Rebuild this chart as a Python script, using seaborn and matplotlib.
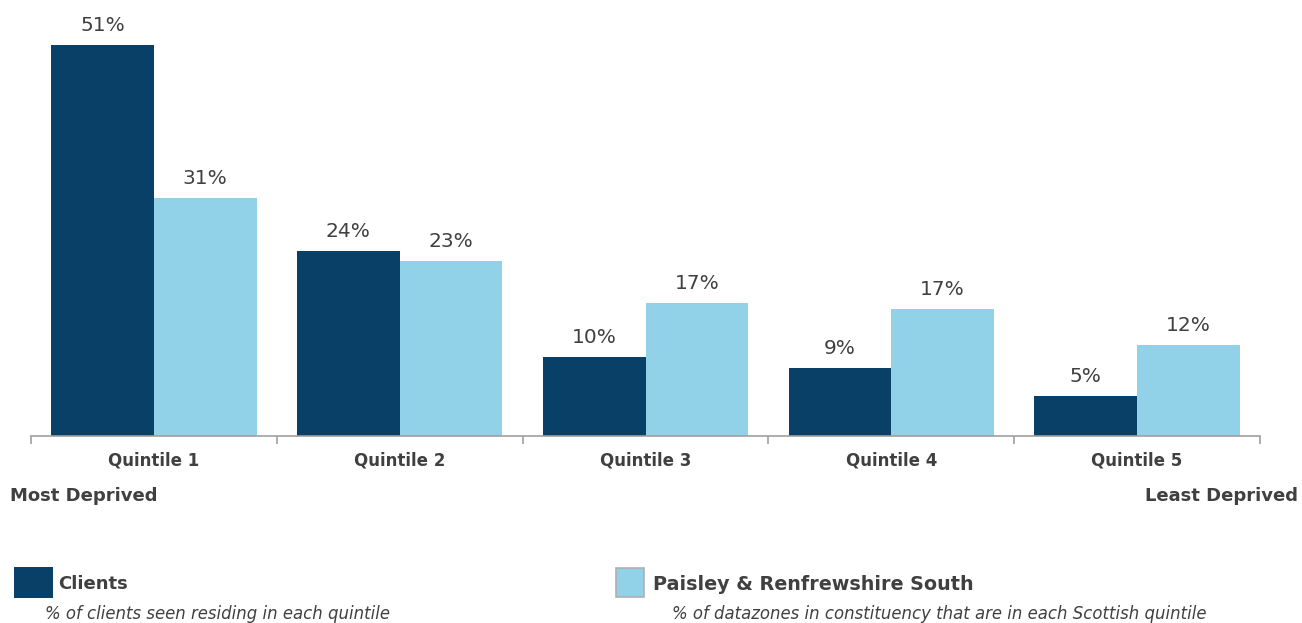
import matplotlib
matplotlib.use("Agg")
import matplotlib.pyplot as plt
from matplotlib.patches import Rectangle
import seaborn as sns
import pandas as pd

categories = ["Quintile 1", "Quintile 2", "Quintile 3", "Quintile 4", "Quintile 5"]
clients = [51.0, 24.1, 10.3, 8.9, 5.2]
constituency = [31.0, 22.8, 17.3, 16.6, 11.9]
series_names = ["Clients", "Paisley & Renfrewshire South"]
colors = ["#084068", "#92D2E8"]

df = pd.DataFrame({
    "Quintile": categories * 2,
    "Series": [series_names[0]] * 5 + [series_names[1]] * 5,
    "Value": clients + constituency,
})

sns.set_theme(style="white")
plt.rcParams["font.family"] = ["DejaVu Sans"]
text_color = "#404040"

fig = plt.figure(figsize=(13.02, 6.23), dpi=100)
ax = fig.add_axes([31 / 1302, 1 - 436 / 623, (1260 - 31) / 1302, (436 - 10) / 623])

sns.barplot(data=df, x="Quintile", y="Value", hue="Series", palette=colors,
            width=0.835, saturation=1, ax=ax, legend=False, linewidth=0)

for cont in ax.containers:
    ax.bar_label(cont, labels=[f"{v:.0f}%" for v in cont.datavalues],
                 padding=7, fontsize=14.5, color=text_color)

ax.set_ylim(0, 55.5)
ax.set_xlim(-0.5, 4.5)
ax.set_xlabel("")
ax.set_ylabel("")
ax.set_yticks([])
for s in ["top", "right", "left"]:
    ax.spines[s].set_visible(False)
ax.spines["bottom"].set_color("#A0A0A0")
ax.spines["bottom"].set_linewidth(1.2)
ax.tick_params(axis="x", which="major", length=0, pad=11)
ax.set_xticks([-0.5, 0.5, 1.5, 2.5, 3.5, 4.5], minor=True)
ax.tick_params(axis="x", which="minor", length=6, color="#A0A0A0", width=1.2, bottom=True)
for lbl in ax.get_xticklabels():
    lbl.set_fontweight("bold")
    lbl.set_fontsize(12)
    lbl.set_color(text_color)

fig.text(10 / 1302, 1 - 496 / 623, "Most Deprived", fontsize=13, fontweight="bold",
         color=text_color, ha="left", va="center")
fig.text(1298 / 1302, 1 - 496 / 623, "Least Deprived", fontsize=13, fontweight="bold",
         color=text_color, ha="right", va="center")

# legend
fig.patches.append(Rectangle((14 / 1302, 1 - 598 / 623), 39 / 1302, 31 / 623,
                             transform=fig.transFigure, facecolor=colors[0], edgecolor="none"))
fig.text(58 / 1302, 1 - 584 / 623, series_names[0], fontsize=13, fontweight="bold",
         color=text_color, ha="left", va="center")
fig.text(45 / 1302, 1 - 614 / 623, "% of clients seen residing in each quintile", fontsize=11.9,
         style="italic", color=text_color, ha="left", va="center")

fig.patches.append(Rectangle((616 / 1302, 1 - 597 / 623), 28 / 1302, 29 / 623,
                             transform=fig.transFigure, facecolor=colors[1],
                             edgecolor="#B0B0B0", linewidth=1.2))
fig.text(653 / 1302, 1 - 584 / 623, series_names[1], fontsize=13.8, fontweight="bold",
         color=text_color, ha="left", va="center")
fig.text(672 / 1302, 1 - 614 / 623,
         "% of datazones in constituency that are in each Scottish quintile",
         fontsize=11.9, style="italic", color=text_color, ha="left", va="center")

fig.savefig("out.png", dpi=100)
